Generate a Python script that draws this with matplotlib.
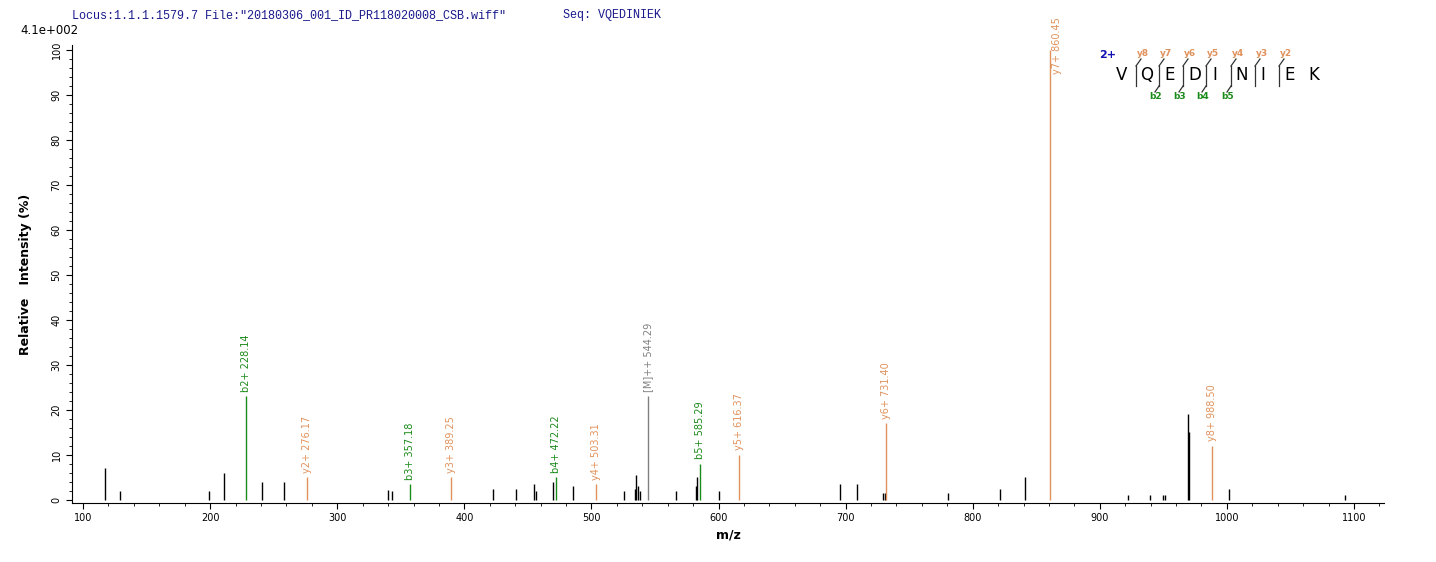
import matplotlib
matplotlib.use("Agg")
import matplotlib.pyplot as plt
from matplotlib.ticker import MultipleLocator
from matplotlib.lines import Line2D

# unlabeled peaks
bg_mz = [117.3,129,199,211,241,258,340,343,422.6,440.7,454.8,456,470,485.5,526,534,535,537,538,
         566.5,582.3,583,600.4,695.6,709,729.4,731,780.6,821.5,841,922,939.5,950,951.4,969.4,970,1001.6,1093]
bg_int = [7,2,2,6,4,4,2.2,2,2.5,2.5,3.5,2,4,3,2,2.5,5.5,3,2,
          2,3,5,2,3.5,3.5,1.5,1.5,1.5,2.5,5,1,1,1,1,19,15,2.5,1]
# labeled peaks
lab_mz = [228.14,276.17,357.18,389.25,472.22,503.31,544.29,585.29,616.37,731.40,860.45,988.50]
lab_int = [23,5,3.5,5,5,3.5,23,8,10,17,100,12]
lab_txt = ["b2+ 228.14","y2+ 276.17","b3+ 357.18","y3+ 389.25","b4+ 472.22","y4+ 503.31",
           "[M]++ 544.29","b5+ 585.29","y5+ 616.37","y6+ 731.40","y7+ 860.45","y8+ 988.50"]
lab_kind = ["b","y","b","y","b","y","m","b","y","y","y","y"]
colors = {"b":"#1a8a1a","y":"#e0925c","m":"#808080"}

W,H = 1436,562
fig = plt.figure(figsize=(W/100,H/100),dpi=100)
ax = fig.add_axes([72/W, 1-503/H, (1384-72)/W, (503-45)/H])
ax.vlines(bg_mz,0,bg_int,color="black",lw=1)
for m,i,t,k in zip(lab_mz,lab_int,lab_txt,lab_kind):
    c = colors[k]
    ax.vlines(m,0,i,color=c,lw=1)
    if i > 85:
        ax.text(m+6,i+1,t,rotation=90,ha="center",va="center",fontsize=7,color=c,clip_on=False)
    else:
        ax.text(m,i+1,t,rotation=90,ha="center",va="bottom",fontsize=7,color=c)
ax.set_xlim(91.3,1123.6)
ax.set_ylim(-0.67,101.1)
ax.xaxis.set_major_locator(MultipleLocator(100))
ax.xaxis.set_minor_locator(MultipleLocator(20))
ax.yaxis.set_major_locator(MultipleLocator(10))
ax.yaxis.set_minor_locator(MultipleLocator(2))
ax.tick_params(labelsize=7,length=4,width=0.8)
ax.tick_params(which="minor",length=2)
for l in ax.get_yticklabels():
    l.set_rotation(90); l.set_va("center")
for s in ["top","right"]:
    ax.spines[s].set_visible(False)
ax.set_xlabel("m/z",fontsize=9,fontweight="bold")
ax.set_ylabel("Relative   Intensity (%)",fontsize=9,fontweight="bold",labelpad=14)

fig.text(72/W,1-15/H,'Locus:1.1.1.1579.7 File:"20180306_001_ID_PR118020008_CSB.wiff"',
         family="Liberation Mono",fontsize=8.5,color="#1a1a8c",va="center")
fig.text(563/W,1-15/H,'Seq: VQEDINIEK',family="Liberation Mono",fontsize=8.5,color="#1a1a8c",va="center")
fig.text(20/W,1-31/H,"4.1e+002",fontsize=8.5,va="center")

# sequence annotation
seq = "VQEDINIEK"
lx = [1122,1147,1170,1195,1215,1242,1263,1290,1314]
for ch,x in zip(seq,lx):
    fig.text(x/W,1-75/H,ch,fontsize=12,ha="center",va="center")
fig.text(1108/W,1-55/H,"2+",fontsize=8,color="#1010b0",fontweight="bold",ha="center",va="center")
brk = [1136,1159,1183,1206,1231,1255,1279]
ylab = ["y8","y7","y6","y5","y4","y3","y2"]
blab = {1:"b2",2:"b3",3:"b4",4:"b5"}
def L(x0,y0,x1,y1,c="#333333"):
    fig.add_artist(Line2D([x0/W,x1/W],[1-y0/H,1-y1/H],color=c,lw=0.9))
for j,x in enumerate(brk):
    L(x,66,x,86)
    L(x,66,x+5,59)
    fig.text((x+7)/W,1-54/H,ylab[j],fontsize=6.5,color=colors["y"],ha="center",va="center",fontweight="bold")
    if j in blab:
        L(x,86,x-4,92)
        fig.text((x-3)/W,1-97/H,blab[j],fontsize=6.5,color=colors["b"],ha="center",va="center",fontweight="bold")
fig.savefig("out.png",dpi=100)
